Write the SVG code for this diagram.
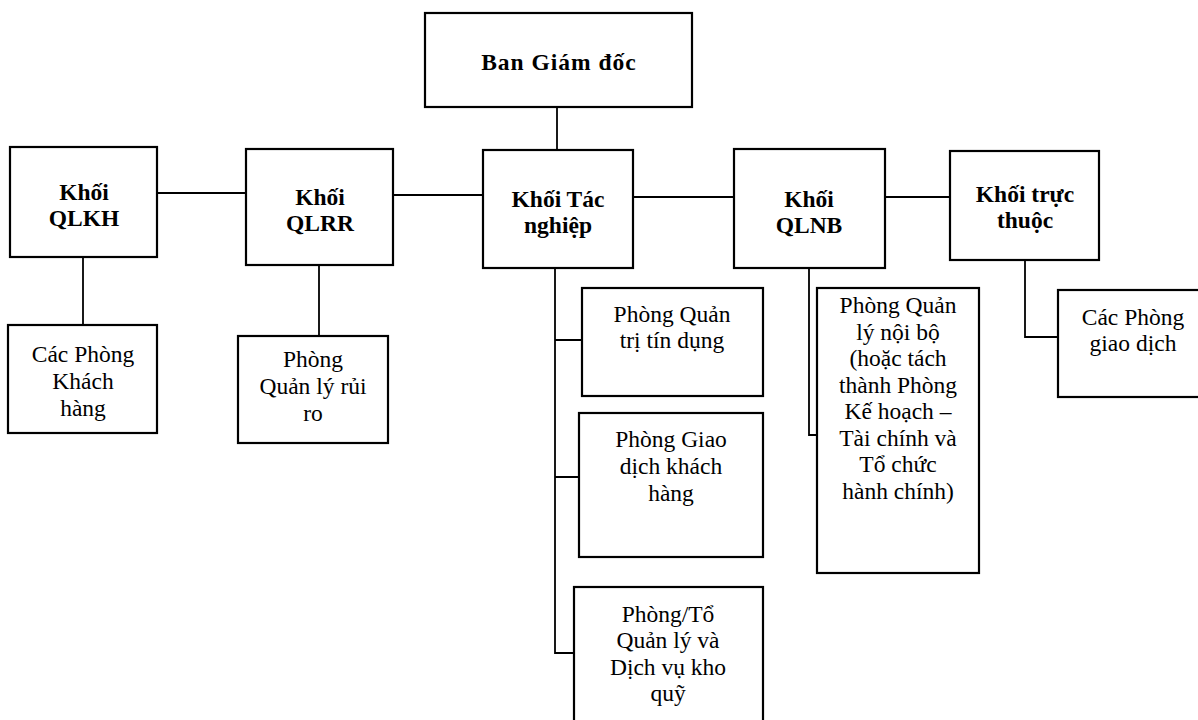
<svg xmlns="http://www.w3.org/2000/svg" width="1198" height="720" viewBox="0 0 1198 720">
<style>
rect{fill:#fff;stroke:#000;stroke-width:2.2}
.c{fill:none;stroke:#000;stroke-width:1.8}
text{font-family:"Liberation Serif","Times New Roman",serif;font-size:23.5px;fill:#000;text-anchor:middle}
.b{font-weight:bold}
</style>
<rect x="0" y="0" width="1198" height="720" style="stroke:none"/>
<g id="connectors">
<path class="c" d="M557 107V150"/>
<path class="c" d="M157 193H246"/>
<path class="c" d="M393 195H483"/>
<path class="c" d="M633 197H734"/>
<path class="c" d="M885 197H950"/>
<path class="c" d="M83 257V325"/>
<path class="c" d="M319 265V336"/>
<path class="c" d="M555 268V653H574M555 340H582M555 477H579"/>
<path class="c" d="M809 268V435H817"/>
<path class="c" d="M1025 260V337H1058"/>
</g>
<g id="ban-giam-doc">
<rect x="425" y="13" width="267" height="94"/>
<text class="b" x="559" y="70" style="letter-spacing:1px">Ban Giám đốc</text>
</g>
<g id="khoi-qlkh">
<rect x="10" y="147" width="147" height="110"/>
<text class="b" x="84" y="200">Khối</text>
<text class="b" x="84" y="226">QLKH</text>
</g>
<g id="khoi-qlrr">
<rect x="246" y="149" width="147" height="116"/>
<text class="b" x="320" y="205">Khối</text>
<text class="b" x="320" y="231">QLRR</text>
</g>
<g id="khoi-tac-nghiep">
<rect x="483" y="150" width="150" height="118"/>
<text class="b" x="558" y="207">Khối Tác</text>
<text class="b" x="558" y="233">nghiệp</text>
</g>
<g id="khoi-qlnb">
<rect x="734" y="149" width="151" height="119"/>
<text class="b" x="809" y="207">Khối</text>
<text class="b" x="809" y="233">QLNB</text>
</g>
<g id="khoi-truc-thuoc">
<rect x="950" y="151" width="149" height="109"/>
<text class="b" x="1025" y="202">Khối trực</text>
<text class="b" x="1025" y="228">thuộc</text>
</g>
<g id="cac-phong-khach-hang">
<rect x="8" y="325" width="149" height="108"/>
<text x="83" y="362">Các Phòng</text>
<text x="83" y="389">Khách</text>
<text x="83" y="416">hàng</text>
</g>
<g id="phong-quan-ly-rui-ro">
<rect x="238" y="336" width="150" height="107"/>
<text x="313" y="367">Phòng</text>
<text x="313" y="394">Quản lý rủi</text>
<text x="313" y="421">ro</text>
</g>
<g id="phong-quan-tri-tin-dung">
<rect x="582" y="288" width="181" height="108"/>
<text x="672" y="322">Phòng Quản</text>
<text x="672" y="348">trị tín dụng</text>
</g>
<g id="phong-giao-dich-khach-hang">
<rect x="579" y="413" width="184" height="144"/>
<text x="671" y="447">Phòng Giao</text>
<text x="671" y="474">dịch khách</text>
<text x="671" y="501">hàng</text>
</g>
<g id="phong-to-kho-quy">
<rect x="574" y="587" width="189" height="140"/>
<text x="668" y="622">Phòng/Tổ</text>
<text x="668" y="648">Quản lý và</text>
<text x="668" y="675">Dịch vụ kho</text>
<text x="668" y="701">quỹ</text>
</g>
<g id="phong-quan-ly-noi-bo">
<rect x="817" y="288" width="162" height="285"/>
<text x="898" y="313">Phòng Quản</text>
<text x="898" y="340">lý nội bộ</text>
<text x="898" y="366">(hoặc tách</text>
<text x="898" y="393">thành Phòng</text>
<text x="898" y="419">Kế hoạch –</text>
<text x="898" y="446">Tài chính và</text>
<text x="898" y="472">Tổ chức</text>
<text x="898" y="499">hành chính)</text>
</g>
<g id="cac-phong-giao-dich">
<rect x="1058" y="290" width="152" height="107"/>
<text x="1133" y="325">Các Phòng</text>
<text x="1133" y="351">giao dịch</text>
</g>
</svg>
